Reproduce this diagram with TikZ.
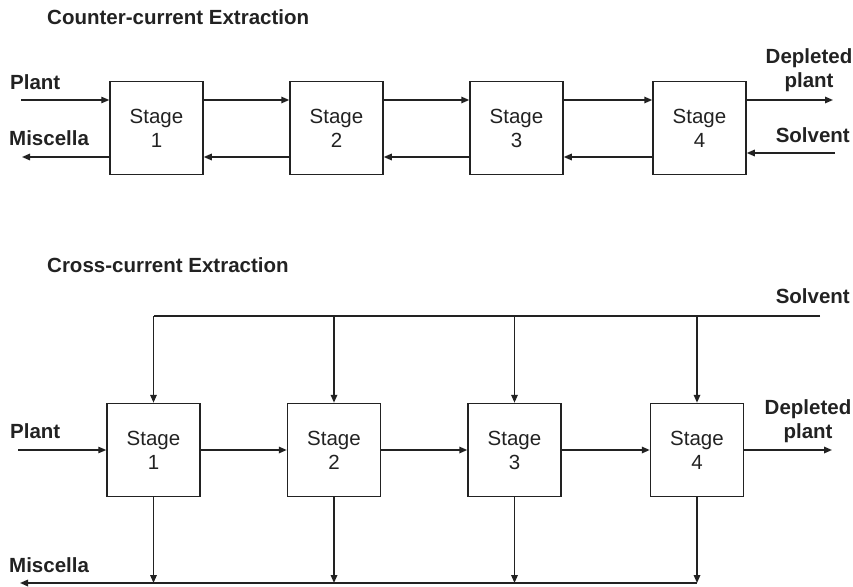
\documentclass[tikz,border=0pt]{standalone}
\usepackage{fontspec}
\setmainfont{Liberation Sans}
\usetikzlibrary{arrows.meta}
\definecolor{ink}{HTML}{222222}
\tikzset{
  stagebox/.style={draw=ink, line width=1.5pt, minimum width=93pt, minimum height=93pt,
    inner sep=0pt, align=center, text=ink, font=\fontsize{20.5}{24}\selectfont},
  flow/.style={draw=ink, line width=1.6pt, -{Triangle[length=8pt,width=6.5pt]}},
  thinflow/.style={flow, line width=1.2pt},
  line/.style={draw=ink, line width=1.8pt},
  lbl/.style={text=ink, inner sep=0pt, font=\bfseries\fontsize{20.5}{24}\selectfont},
  heading/.style={lbl, anchor=base west}
}
\begin{document}
\begin{tikzpicture}[x=1pt,y=-1pt]
\useasboundingbox (0,0) rectangle (853,586);

% ---------- counter-current ----------
\node[heading] (t1) at (47,25) {Counter-current Extraction};

\node[stagebox] (a1) at (156.5,128) {Stage\\1};
\node[stagebox] (a2) at (336.5,128) {Stage\\2};
\node[stagebox] (a3) at (516.5,128) {Stage\\3};
\node[stagebox] (a4) at (699.5,128) {Stage\\4};

\coordinate (pin)  at (21,100);
\coordinate (mout) at (22,157);
\coordinate (dout) at (833,100);
\coordinate (sin)  at (835,153);

\node[lbl, anchor=base west] (lp1) at (10,89) {Plant};
\node[lbl, anchor=base west] (lm1) at (9,145) {Miscella};
\node[lbl, align=center, anchor=south] (ld1) at (809,92) {Depleted\\plant};
\node[lbl, anchor=base east] (ls1) at (850,142) {Solvent};

\draw[thinflow] (pin) -- (a1.west |- pin);
\draw[flow] ([yshift=28pt]a1.east) -- ([yshift=28pt]a2.west);
\draw[flow] ([yshift=28pt]a2.east) -- ([yshift=28pt]a3.west);
\draw[flow] ([yshift=28pt]a3.east) -- ([yshift=28pt]a4.west);
\draw[flow] ([yshift=28pt]a4.east) -- (dout);

\draw[flow] (sin) -- (a4.east |- sin);
\draw[flow] ([yshift=-29pt]a4.west) -- ([yshift=-29pt]a3.east);
\draw[flow] ([yshift=-29pt]a3.west) -- ([yshift=-29pt]a2.east);
\draw[flow] ([yshift=-29pt]a2.west) -- ([yshift=-29pt]a1.east);
\draw[flow] ([yshift=-29pt]a1.west) -- (mout);

% ---------- cross-current ----------
\node[heading] (t2) at (47,272) {Cross-current Extraction};

\node[stagebox] (b1) at (153.5,450) {Stage\\1};
\node[stagebox] (b2) at (334,450) {Stage\\2};
\node[stagebox] (b3) at (514.5,450) {Stage\\3};
\node[stagebox] (b4) at (697,450) {Stage\\4};

\coordinate (sv)  at (820,316);
\coordinate (pin2) at (18,450);
\coordinate (dout2) at (832,450);
\coordinate (mc)  at (20,583);

\node[lbl, anchor=base east] (ls2) at (850,303) {Solvent};
\node[lbl, anchor=base west] (lp2) at (10,438) {Plant};
\node[lbl, align=center, anchor=south] (ld2) at (808,443) {Depleted\\plant};
\node[lbl, anchor=base west] (lm2) at (9,572) {Miscella};

% solvent header and feeds
\draw[line] (sv) -- (b1.north |- sv);
\draw[flow] (b1.north |- sv) -- (b1.north);
\draw[flow] (b2.north |- sv) -- (b2.north);
\draw[flow] (b3.north |- sv) -- (b3.north);
\draw[flow] (b4.north |- sv) -- (b4.north);

% plant through the stages
\draw[thinflow] (pin2) -- (b1.west);
\draw[flow] (b1.east) -- (b2.west);
\draw[flow] (b2.east) -- (b3.west);
\draw[flow] (b3.east) -- (b4.west);
\draw[flow] (b4.east) -- (dout2);

% miscella collector
\draw[flow] (b1.south) -- (b1.south |- mc);
\draw[flow] (b2.south) -- (b2.south |- mc);
\draw[flow] (b3.south) -- (b3.south |- mc);
\draw[flow] (b4.south) -- (b4.south |- mc);
\draw[flow] (b4.south |- mc) -- (mc);
\end{tikzpicture}
\end{document}
